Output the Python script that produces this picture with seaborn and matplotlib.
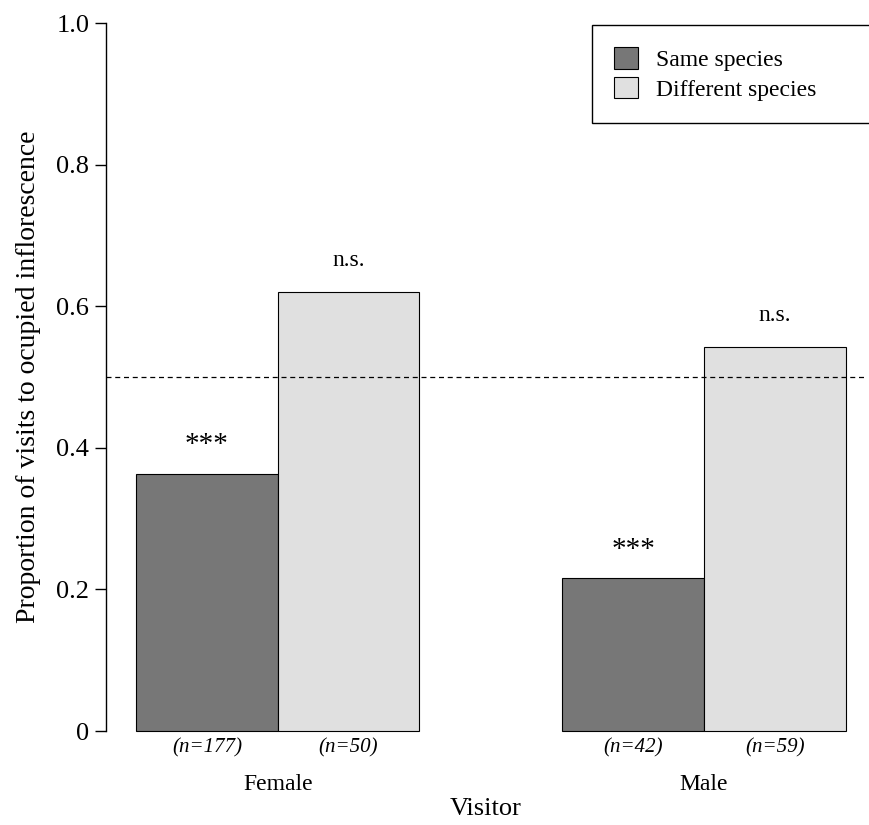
import pandas as pd
import seaborn as sns
import matplotlib.pyplot as plt

visitor = ["Female", "Female", "Male", "Male"]
species = ["Same species", "Different species", "Same species", "Different species"]
proportion = [0.363, 0.620, 0.216, 0.542]
n_labels = ["(n=177)", "(n=50)", "(n=42)", "(n=59)"]
signif = ["***", "n.s.", "***", "n.s."]
ytick_vals = [0, 0.2, 0.4, 0.6, 0.8, 1.0]
ytick_labels = ["0", "0.2", "0.4", "0.6", "0.8", "1.0"]

df = pd.DataFrame({"visitor": visitor, "species": species, "proportion": proportion})

sns.set_style("ticks")
plt.rcParams["font.family"] = ["Liberation Serif", "DejaVu Serif"]
plt.rcParams["text.color"] = "black"
plt.rcParams["axes.labelcolor"] = "black"
plt.rcParams["xtick.color"] = "black"
plt.rcParams["ytick.color"] = "black"
plt.rcParams["axes.edgecolor"] = "black"

fig = plt.figure(figsize=(8.7, 8.25), dpi=100)
ax = fig.add_axes([0.1218, 0.1139, 0.8724, 0.8582])

sns.barplot(
    data=df,
    x="visitor",
    y="proportion",
    hue="species",
    order=["Female", "Male"],
    hue_order=["Same species", "Different species"],
    palette={"Same species": "#777777", "Different species": "#e0e0e0"},
    width=0.665,
    edgecolor="black",
    linewidth=0.8,
    errorbar=None,
    ax=ax,
)

ax.axhline(0.5, color="black", lw=0.9, ls=(0, (4, 3)))

# bars come out grouped by hue, sort them left to right
bars = sorted(ax.patches[:4], key=lambda p: p.get_x())
for p, nl, s in zip(bars, n_labels, signif):
    cx = p.get_x() + p.get_width() / 2
    if s == "***":
        ax.text(cx, p.get_height() + 0.022, s, ha="center", va="bottom", fontsize=21)
    else:
        ax.text(cx, p.get_height() + 0.03, s, ha="center", va="bottom", fontsize=17)
    ax.text(cx, -0.024, nl, ha="center", va="center", fontsize=15,
            style="italic", clip_on=False)
    p.set_clip_on(False)

ax.set_xlim(-0.403, 1.378)
ax.set_ylim(0, 1.0)
ax.set_yticks(ytick_vals)
ax.set_yticklabels(ytick_labels, fontsize=19)
ax.tick_params(axis="y", length=8, width=1, direction="out", pad=4)
ax.tick_params(axis="x", length=0, pad=31, labelsize=17)
for sp in ["top", "right", "bottom"]:
    ax.spines[sp].set_visible(False)
ax.spines["left"].set_linewidth(1)

ax.set_xlabel("Visitor", fontsize=19, labelpad=2)
ax.set_ylabel("Proportion of visits to ocupied inflorescence", fontsize=20, labelpad=11)

ax.legend(
    loc="upper left",
    bbox_to_anchor=(592 / 870, 1 - 25 / 825 - 0.01, 278 / 870, 0.01),
    bbox_transform=fig.transFigure,
    mode="expand",
    fontsize=17,
    frameon=True,
    fancybox=False,
    edgecolor="black",
    framealpha=1,
    borderpad=0.95,
    labelspacing=0.25,
    handlelength=1.0,
    handleheight=1.0,
    handletextpad=0.75,
    borderaxespad=0,
)
ax.get_legend().get_frame().set_linewidth(1)

fig.savefig("out.png", dpi=100)
